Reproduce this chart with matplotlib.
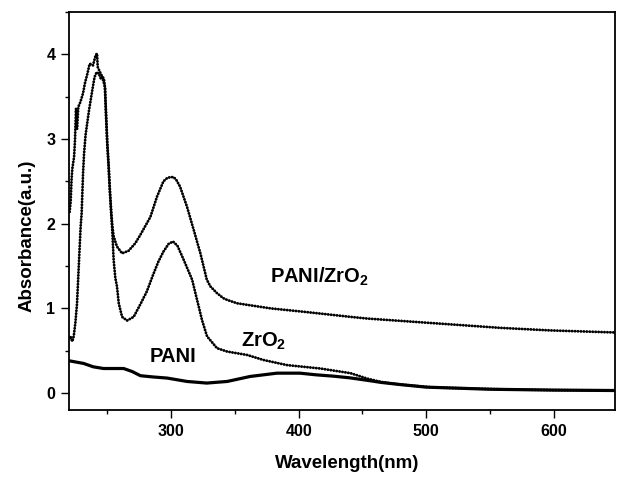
import matplotlib
matplotlib.use("Agg")
import matplotlib.pyplot as plt
from matplotlib.ticker import MultipleLocator

plt.rcParams['font.family'] = ['Liberation Sans', 'DejaVu Sans']
plt.rcParams['font.weight'] = 'bold'
plt.rcParams['mathtext.fontset'] = 'custom'
plt.rcParams['mathtext.rm'] = 'Liberation Sans:bold'
plt.rcParams['mathtext.bf'] = 'Liberation Sans:bold'
plt.rcParams['mathtext.it'] = 'Liberation Sans:bold'

# ---------------- data ----------------
pz_wl = [220.5, 221.3, 222, 222.6, 224, 224.7, 225.5, 226.3, 227.3, 229, 231, 232.5,
         234.4, 236.2, 238.8, 240.9, 242, 242.5, 244.3, 245.6, 247.4, 248.2, 249, 250,
         251, 252, 253, 254, 255, 257.6, 261.6, 266.7, 272, 276, 283.8, 289, 294, 297,
         299.5, 302, 304, 307, 312.5, 317.7, 323, 328, 330.8, 336, 341, 344, 351.8,
         378, 404, 440.6, 453.7, 506, 558, 597, 649]
pz_abs = [2.14, 2.26, 2.52, 2.65, 2.79, 2.99, 3.36, 3.12, 3.38, 3.44, 3.54, 3.66,
          3.77, 3.89, 3.87, 3.99, 4.01, 3.85, 3.79, 3.75, 3.71, 3.60, 3.30, 2.95,
          2.70, 2.40, 2.15, 1.97, 1.85, 1.73, 1.65, 1.68, 1.77, 1.87, 2.08, 2.32, 2.50, 2.54,
          2.55, 2.55, 2.52, 2.44, 2.20, 1.93, 1.65, 1.34, 1.26, 1.18, 1.12, 1.10, 1.06,
          1.00, 0.96, 0.90, 0.88, 0.825, 0.77, 0.74, 0.715]

zr_wl = [220.5, 221.1, 222.5, 223.7, 225, 226.3, 227.5, 229.1, 229.9, 231, 231.8, 233,
         235.7, 238.3, 240, 241.7, 243.5, 245, 246, 248.2, 249, 250, 251, 252, 253, 254,
         255, 256.3, 257.6, 259, 261.6, 265.5, 270.7, 276, 281, 286, 290, 294, 298, 301.5,
         305, 310, 316.5, 320.4, 324.3, 328.2, 336, 344, 359.6, 372.6, 391, 417, 440.6,
         454, 465, 480, 506, 558, 600, 649]
zr_abs = [0.65, 0.67, 0.61, 0.67, 0.83, 1.06, 1.45, 1.96, 2.12, 2.59, 2.83, 3.05,
          3.34, 3.58, 3.73, 3.79, 3.77, 3.71, 3.73, 3.62, 3.30, 2.95, 2.70, 2.40, 2.15, 1.90,
          1.57, 1.36, 1.26, 1.06, 0.90, 0.856, 0.90, 1.05, 1.20, 1.40, 1.55, 1.67, 1.76, 1.79,
          1.74, 1.57, 1.34, 1.10, 0.86, 0.67, 0.53, 0.49, 0.45, 0.39, 0.33, 0.29, 0.235,
          0.17, 0.13, 0.10, 0.066, 0.045, 0.035, 0.03]

pani_wl = [220.5, 231.4, 239, 247, 255, 262.8, 269.4, 276, 286, 297, 312.5, 328, 344,
           362, 383, 401, 414, 427, 440, 454, 465, 480, 500, 550, 600, 649]
pani_abs = [0.38, 0.35, 0.31, 0.29, 0.29, 0.29, 0.255, 0.205, 0.19, 0.177, 0.137, 0.118,
            0.137, 0.196, 0.235, 0.235, 0.215, 0.20, 0.18, 0.15, 0.125, 0.10, 0.07, 0.045,
            0.035, 0.03]

x_ticks = [300, 400, 500, 600]
y_ticks = [0, 1, 2, 3, 4]

# ---------------- figure ----------------
fig = plt.figure(figsize=(6.17, 4.78), dpi=100)
ax = fig.add_axes([69/617, 1-410/478, 546/617, 398/478])

dot_style = dict(color='black', linewidth=2.1, linestyle=(0, (0.01, 1.0)),
                 dash_capstyle='round', solid_joinstyle='round')
for wl, ab in [(pz_wl, pz_abs), (zr_wl, zr_abs)]:
    ax.plot(wl, ab, color='#6e6e6e', linewidth=0.9, zorder=2)
    ax.plot(wl, ab, zorder=3, **dot_style)

ax.plot(pani_wl, pani_abs, color='black', linewidth=2.3, zorder=3,
        solid_joinstyle='round')

ax.text(377.5, 1.375, r'PANI/ZrO$_2$', fontsize=14.5, fontweight='bold', va='center', ha='left')
ax.text(355, 0.61, r'ZrO$_2$', fontsize=14.5, fontweight='bold', va='center', ha='left')
ax.text(283.5, 0.43, 'PANI', fontsize=14.5, fontweight='bold', va='center', ha='left')

ax.set_xlim(220, 648)
ax.set_ylim(-0.2, 4.5)
ax.set_xticks(x_ticks)
ax.set_yticks(y_ticks)
ax.xaxis.set_minor_locator(MultipleLocator(50))
ax.yaxis.set_minor_locator(MultipleLocator(0.5))
ax.tick_params(which='major', direction='out', length=5.8, width=1.0, labelsize=11.5, pad=4)
ax.tick_params(which='minor', direction='out', length=3.0, width=1.0)
ax.tick_params(top=False, right=False, which='both')
for lab in ax.get_xticklabels() + ax.get_yticklabels():
    lab.set_fontweight('bold')
for sp in ax.spines.values():
    sp.set_linewidth(1.3)

ax.set_xlabel('Wavelength(nm)', fontsize=13.5, fontweight='bold')
ax.set_ylabel('Absorbance(a.u.)', fontsize=13.5, fontweight='bold')
ax.xaxis.set_label_coords(0.509, -0.112)
ax.yaxis.set_label_coords(-0.062, 0.437)

fig.savefig('out.png', dpi=100)
